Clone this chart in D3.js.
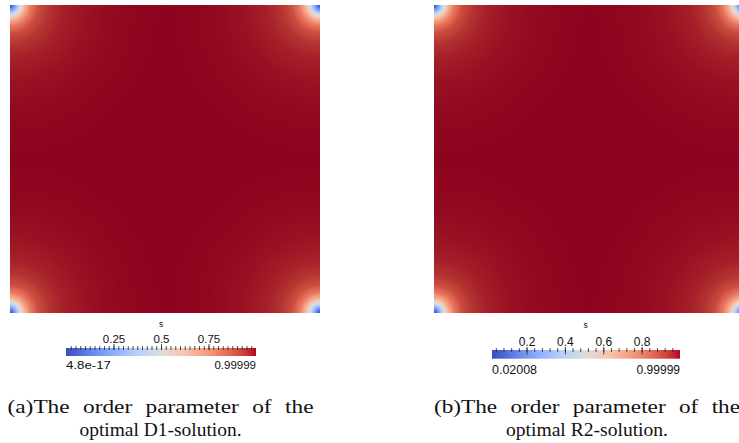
<!DOCTYPE html>
<html>
<head>
<meta charset="utf-8">
<script src="https://cdn.jsdelivr.net/npm/d3@7"></script>
<style>
  html, body { margin: 0; padding: 0; background: #fff; }
  svg { display: block; }
</style>
</head>
<body>
<svg id="fig" width="739" height="443"></svg>
<script>
// Radial profile of the order parameter s, distance (px) from each corner of the square
const profileDist = [0, 3, 6, 9, 12, 16, 21, 28, 38, 55, 80, 110, 150, 200];
const profileD1   = [0.0, 0.1, 0.25, 0.42, 0.58, 0.72, 0.83, 0.9, 0.94, 0.965, 0.982, 0.993, 0.999, 0.99999];
const profileR2   = [0.02008, 0.12, 0.27, 0.44, 0.6, 0.74, 0.84, 0.905, 0.943, 0.967, 0.983, 0.993, 0.999, 0.99999];

// Scalar ranges shown on the two colour bars
const rangeD1 = [4.8e-17, 0.99999];
const rangeR2 = [0.02008, 0.99999];
const rangeLabelsD1 = ["4.8e-17", "0.99999"];
const rangeLabelsR2 = ["0.02008", "0.99999"];

// Major tick values and minor tick spacing
const ticksD1 = [0.25, 0.5, 0.75];
const ticksR2 = [0.2, 0.4, 0.6, 0.8];
const minorStepD1 = 0.025;
const minorStepR2 = 0.04;

// Captions
const captionD1 = ["(a)The order parameter of the", "optimal D1-solution."];
const captionR2 = ["(b)The order parameter of the", "optimal R2-solution."];

// Cool-to-warm diverging colour map (normalised position -> colour)
const cmapPos = [0, 0.125, 0.25, 0.375, 0.5, 0.625, 0.75, 0.875, 0.9375, 1];
const cmapCol = ["#3b4cc0", "#6282ea", "#8db0fe", "#b8d0f9", "#dddddd",
                 "#f5c4ad", "#f49a7b", "#de604d", "#cb3e38", "#b40426"];

// Surface shading of the rendered field (s -> brightness factor)
const shadeS = [0, 0.85, 0.93, 1];
const shadeK = [1, 1, 0.92, 0.78];

const svg = d3.select("#fig");

const cmap = d3.scaleLinear().domain(cmapPos).range(cmapCol)
  .interpolate(d3.interpolateRgb).clamp(true);
const shade = d3.scaleLinear().domain(shadeS).range(shadeK).clamp(true);

function drawField(x0, y0, w, h, profile, range) {
  const prof = d3.scaleLinear().domain(profileDist).range(profile).clamp(true);
  const norm = d3.scaleLinear().domain(range).range([0, 1]).clamp(true);
  const canvas = document.createElement("canvas");
  canvas.width = w; canvas.height = h;
  const ctx = canvas.getContext("2d");
  const img = ctx.createImageData(w, h);
  const corners = [[0, 0], [w, 0], [0, h], [w, h]];
  for (let j = 0; j < h; j++) {
    for (let i = 0; i < w; i++) {
      const px = i + 0.5, py = j + 0.5;
      let d = Infinity;
      for (const [cx, cy] of corners) d = Math.min(d, Math.hypot(px - cx, py - cy));
      const s = prof(d);
      const c = d3.rgb(cmap(norm(s)));
      const k = shade(s);
      const o = (j * w + i) * 4;
      img.data[o] = c.r * k; img.data[o + 1] = c.g * k; img.data[o + 2] = c.b * k; img.data[o + 3] = 255;
    }
  }
  ctx.putImageData(img, 0, 0);
  svg.append("image").attr("x", x0).attr("y", y0).attr("width", w).attr("height", h)
    .attr("href", canvas.toDataURL());
}

let gradId = 0;
function drawColorBar(x0, x1, yTop, yBot, range, ticks, minorStep, labels, lay) {
  const id = "grad" + (gradId++);
  const grad = svg.append("defs").append("linearGradient").attr("id", id)
    .attr("x1", "0%").attr("x2", "100%").attr("y1", "0%").attr("y2", "0%");
  d3.range(0, 1.0001, 1 / 64).forEach(t => {
    grad.append("stop").attr("offset", (t * 100) + "%").attr("stop-color", cmap(t));
  });
  svg.append("rect").attr("x", x0).attr("y", yTop).attr("width", x1 - x0).attr("height", yBot - yTop)
    .attr("fill", `url(#${id})`);

  const x = d3.scaleLinear().domain(range).range([x0, x1]);
  const g = svg.append("g").attr("transform", `translate(0,${yTop + lay.tickDrop})`);
  // minor ticks
  const start = Math.ceil(range[0] / minorStep) * minorStep;
  const minor = d3.range(start, range[1], minorStep).filter(v => v >= range[0]);
  const axisMinor = d3.axisTop(x).tickValues(minor).tickSize(lay.minorLen).tickFormat("");
  const gm = g.append("g").call(axisMinor);
  const axisMajor = d3.axisTop(x).tickValues(ticks).tickSize(lay.majorLen).tickFormat(d3.format("")).tickPadding(lay.pad);
  const gM = g.append("g").call(axisMajor);
  [gm, gM].forEach(a => {
    a.select(".domain").remove();
    a.selectAll(".tick line").attr("stroke", "#222").attr("stroke-width", 0.8);
  });
  gM.selectAll(".tick line").attr("y2", -lay.majorLen).attr("y1", lay.majorDown);
  gM.selectAll(".tick text").attr("font-family", "Liberation Sans, Arial, sans-serif")
    .attr("font-size", lay.fs).attr("fill", "#111");

  svg.append("text").attr("x", lay.titleX).attr("y", lay.titleY).attr("text-anchor", "middle")
    .attr("font-family", "Liberation Sans, Arial, sans-serif").attr("font-size", 8.5).attr("fill", "#111")
    .text("s");
  svg.append("text").attr("x", x0).attr("y", lay.labY)
    .attr("font-family", "Liberation Sans, Arial, sans-serif").attr("font-size", lay.fs).attr("fill", "#111")
    .attr("textLength", lay.minW).attr("lengthAdjust", "spacingAndGlyphs").text(labels[0]);
  svg.append("text").attr("x", x1).attr("y", lay.labY).attr("text-anchor", "end")
    .attr("font-family", "Liberation Sans, Arial, sans-serif").attr("font-size", lay.fs).attr("fill", "#111")
    .text(labels[1]);
}

function drawCaption(cx, lines) {
  const t = svg.append("g").attr("font-family", "Liberation Serif, 'DejaVu Serif', serif")
    .attr("font-size", 18.5).attr("fill", "#111").attr("text-anchor", "middle");
  t.append("text").attr("x", cx).attr("y", 413).style("word-spacing", "6px")
    .attr("textLength", 306).attr("lengthAdjust", "spacingAndGlyphs").text(lines[0]);
  t.append("text").attr("x", cx).attr("y", 435.5).attr("textLength", 162)
    .attr("lengthAdjust", "spacingAndGlyphs").text(lines[1]);
}

// Panel (a): D1-solution
drawField(10, 5, 310, 308, profileD1, rangeD1);
drawColorBar(66, 256, 348, 356, rangeD1, ticksD1, minorStepD1, rangeLabelsD1,
  { tickDrop: 2, minorLen: 4, majorLen: 6, majorDown: 0, pad: 1, fs: 11.5,
    titleX: 161, titleY: 327, labY: 369, minW: 45 });
drawCaption(160.5, captionD1);

// Panel (b): R2-solution
drawField(434, 5, 309, 308, profileR2, rangeR2);
drawColorBar(492, 680, 350, 358.7, rangeR2, ticksR2, minorStepR2, rangeLabelsR2,
  { tickDrop: 2, minorLen: 4, majorLen: 5, majorDown: 2.5, pad: 1, fs: 12,
    titleX: 585.7, titleY: 328, labY: 374, minW: 45 });
drawCaption(587, captionR2);
</script>
</body>
</html>
